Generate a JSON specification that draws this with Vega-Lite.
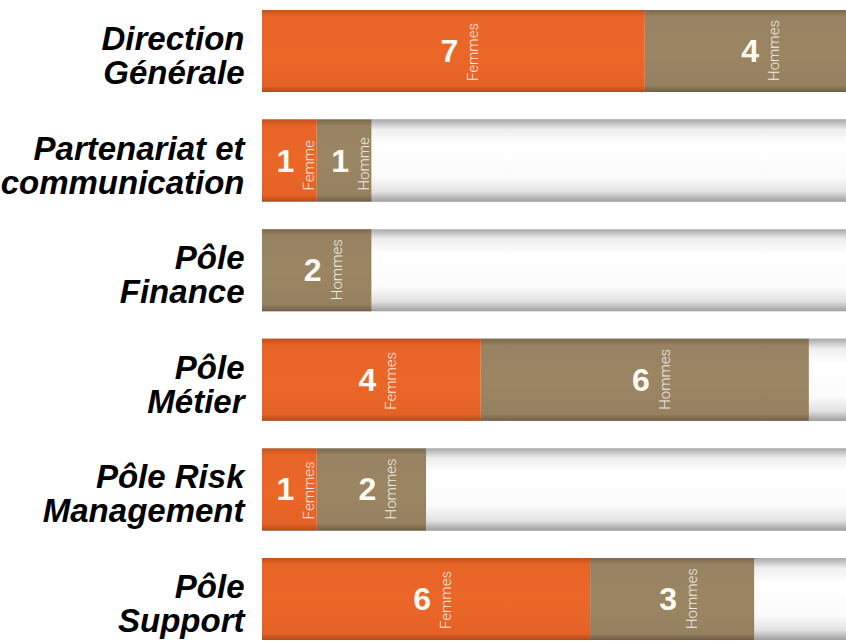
{
  "$schema": "https://vega.github.io/schema/vega-lite/v6.json",
  "width": 584,
  "height": 650,
  "autosize": {"type": "none"},
  "padding": {"left": 262, "top": 0, "right": 0, "bottom": 0},
  "background": "white",
  "config": {"view": {"stroke": null}},
  "data": {
    "values": [
      {"dept": "Direction|Générale", "genre": "F", "n": 7, "mot": "Femmes"},
      {"dept": "Direction|Générale", "genre": "H", "n": 4, "mot": "Hommes"},
      {"dept": "Partenariat et|communication", "genre": "F", "n": 1, "mot": "Femme"},
      {"dept": "Partenariat et|communication", "genre": "H", "n": 1, "mot": "Homme"},
      {"dept": "Pôle|Finance", "genre": "H", "n": 2, "mot": "Hommes"},
      {"dept": "Pôle|Métier", "genre": "F", "n": 4, "mot": "Femmes"},
      {"dept": "Pôle|Métier", "genre": "H", "n": 6, "mot": "Hommes"},
      {"dept": "Pôle Risk|Management", "genre": "F", "n": 1, "mot": "Femmes"},
      {"dept": "Pôle Risk|Management", "genre": "H", "n": 2, "mot": "Hommes"},
      {"dept": "Pôle|Support", "genre": "F", "n": 6, "mot": "Femmes"},
      {"dept": "Pôle|Support", "genre": "H", "n": 3, "mot": "Hommes"}
    ]
  },
  "transform": [
    {"stack": "n", "groupby": ["dept"], "sort": [{"field": "genre", "order": "ascending"}], "as": ["x0", "x1"]},
    {"calculate": "(datum.x0 + datum.x1) / 2", "as": "mid"}
  ],
  "encoding": {
    "y": {
      "field": "dept",
      "type": "nominal",
      "sort": ["Direction|Générale", "Partenariat et|communication", "Pôle|Finance", "Pôle|Métier", "Pôle Risk|Management", "Pôle|Support"],
      "scale": {"paddingInner": 0.252, "paddingOuter": 0.0912},
      "axis": {
        "title": null,
        "domain": false,
        "ticks": false,
        "labelPadding": 18,
        "labelFont": "Liberation Sans",
        "labelFontSize": 33,
        "labelFontStyle": "italic",
        "labelFontWeight": "bold",
        "labelColor": "#000000",
        "labelExpr": "split(datum.value, '|')",
        "labelLineHeight": 34,
        "labelOffset": -11,
        "labelLimit": 300
      }
    }
  },
  "layer": [
    {
      "mark": {
        "type": "bar",
        "clip": true,
        "color": {
          "gradient": "linear", "x1": 0, "y1": 0, "x2": 0, "y2": 1,
          "stops": [
            {"offset": 0, "color": "#a9a9a9"},
            {"offset": 0.12, "color": "#eeeeee"},
            {"offset": 0.3, "color": "#ffffff"},
            {"offset": 0.7, "color": "#fbfbfb"},
            {"offset": 0.88, "color": "#e2e2e2"},
            {"offset": 1, "color": "#9e9e9e"}
          ]
        }
      },
      "encoding": {
        "x": {"datum": 0, "type": "quantitative", "scale": {"domain": [0, 10.68], "nice": false, "zero": true}, "axis": null},
        "x2": {"datum": 13}
      }
    },
    {
      "transform": [{"filter": "datum.genre == 'F'"}],
      "mark": {
        "type": "bar",
        "clip": true,
        "color": {
          "gradient": "linear", "x1": 0, "y1": 0, "x2": 0, "y2": 1,
          "stops": [
            {"offset": 0, "color": "#c4521c"},
            {"offset": 0.08, "color": "#e86427"},
            {"offset": 0.5, "color": "#eb6728"},
            {"offset": 0.92, "color": "#e56226"},
            {"offset": 1, "color": "#b54b19"}
          ]
        }
      },
      "encoding": {
        "x": {"field": "x0", "type": "quantitative", "axis": null},
        "x2": {"field": "x1"}
      }
    },
    {
      "transform": [{"filter": "datum.genre == 'H'"}],
      "mark": {
        "type": "bar",
        "clip": true,
        "color": {
          "gradient": "linear", "x1": 0, "y1": 0, "x2": 0, "y2": 1,
          "stops": [
            {"offset": 0, "color": "#7c6a4e"},
            {"offset": 0.08, "color": "#978261"},
            {"offset": 0.5, "color": "#9b8664"},
            {"offset": 0.92, "color": "#95805f"},
            {"offset": 1, "color": "#6f5f46"}
          ]
        }
      },
      "encoding": {
        "x": {"field": "x0", "type": "quantitative", "axis": null},
        "x2": {"field": "x1"}
      }
    },
    {
      "mark": {
        "type": "text",
        "font": "Liberation Sans",
        "fontWeight": "bold",
        "fontSize": 32,
        "fill": "#fffaf2",
        "align": "center",
        "baseline": "middle",
        "xOffset": -4,
        "yOffset": 1
      },
      "encoding": {
        "x": {"field": "mid", "type": "quantitative", "axis": null},
        "text": {"field": "n", "type": "quantitative"}
      }
    },
    {
      "mark": {
        "type": "text",
        "font": "Roboto",
        "fontWeight": 300,
        "fontSize": 15,
        "fill": "#ffffff",
        "opacity": 0.85,
        "align": "left",
        "baseline": "middle",
        "angle": 270,
        "xOffset": 20,
        "yOffset": 30
      },
      "encoding": {
        "x": {"field": "mid", "type": "quantitative", "axis": null},
        "text": {"field": "mot", "type": "nominal"}
      }
    }
  ]
}
